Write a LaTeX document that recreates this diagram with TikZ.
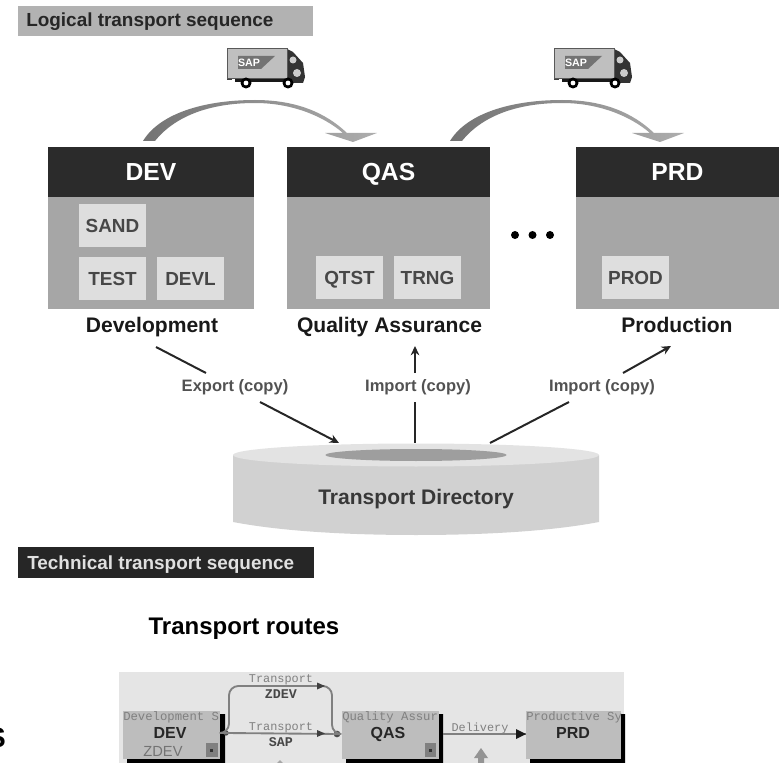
\documentclass[tikz,border=0pt]{standalone}
\usepackage{fontspec}
\setmainfont{Liberation Sans}
\newfontfamily\monof{Liberation Mono}
\usetikzlibrary{arrows.meta,shapes.geometric}
\definecolor{hdrgray}{gray}{0.70}
\definecolor{sysbody}{gray}{0.65}
\definecolor{syshead}{gray}{0.17}
\definecolor{clientbox}{gray}{0.87}
\definecolor{drum}{gray}{0.82}
\definecolor{drumtop}{gray}{0.89}
\definecolor{panel}{gray}{0.90}
\definecolor{routebox}{gray}{0.74}
\tikzset{
  x=0.75pt,y=-0.75pt,
  bandtext/.style={font=\bfseries\fontsize{14.2}{16}\selectfont,anchor=west,inner sep=0,text height=10.5pt,text depth=3pt},
  syshd/.style={fill=syshead,text=white,font=\bfseries\fontsize{18.5}{20}\selectfont,inner sep=0,minimum height=37.5pt,text height=13.3pt,text depth=0pt},
  client/.style={fill=clientbox,font=\bfseries\fontsize{14.2}{16}\selectfont,text=black!72,inner sep=0,minimum width=50.25pt,minimum height=32.25pt,text height=10.2pt,text depth=0pt},
  syslabel/.style={font=\bfseries\fontsize{15.8}{18}\selectfont,text=black!90,inner sep=0,text height=11.5pt,text depth=3.3pt},
  flowlabel/.style={font=\bfseries\fontsize{12.4}{14}\selectfont,text=black!68,inner sep=0,text height=9pt,text depth=2.6pt},
  flow/.style={draw=black!85,line width=1.5pt},
  flowtip/.style={flow,-{Stealth[length=7pt,width=6.5pt]}},
  rbox/.style={fill=routebox,inner sep=0,minimum width=72.5pt,minimum height=35.5pt,anchor=north west},
  rname/.style={font=\bfseries\fontsize{12}{14}\selectfont,text=black!85,inner sep=0,text height=8.6pt,text depth=0pt},
  rsmall/.style={font=\monof\fontsize{9.2}{10}\selectfont,text=black!50,inner sep=0},
  rlabel/.style={font=\monof\fontsize{8.9}{10}\selectfont,text=black!50,inner sep=0},
  rbold/.style={font=\monof\bfseries\fontsize{10}{12}\selectfont,text=black!72,inner sep=0},
  rline/.style={draw=black!50,line width=1.4pt},
  rdot/.style={circle,fill=black!70,inner sep=0,minimum size=5pt},
}
\newcommand{\truck}[1]{%
 \begin{scope}[shift={(#1)}]
  \fill[black!90] (8,31) rectangle (74,35);
  \fill[black!80] (60,2) -- (66,5) -- (76,16) -- (78,30) -- (76,36) -- (60,36) -- cycle;
  \fill[black!20] (66,13) circle[radius=3.5];
  \fill[black!20] (70,26) circle[radius=4];
  \fill[black!75] (0,29) rectangle (5,33);
  \fill[black!25,draw=black!65,line width=0.5pt] (0,1) rectangle (60,31);
  \fill[black!55] (11,9) -- (48,9) -- (34,22) -- (11,22) -- cycle;
  \node[font=\bfseries\fontsize{8}{9}\selectfont,text=white,inner sep=0] at (22,15.5) {SAP};
  \fill[black] (19,36) circle[radius=5.5]; \fill[white] (19,36) circle[radius=2.4];
  \fill[black] (61,36) circle[radius=5.5]; \fill[white] (61,36) circle[radius=2.4];
 \end{scope}}
\newcommand{\bigarc}[1]{%
 \begin{scope}[shift={(#1)}]
  \shade[left color=black!55,middle color=black!8,right color=black!32]
    (143,141) .. controls (160,113) and (205,100) .. (255,100)
    .. controls (295,100) and (325,112) .. (347,133) -- (377,133) -- (353,142) -- (325,133) -- (343,133)
    .. controls (322,115) and (290,103) .. (255,103)
    .. controls (210,103) and (175,116) .. (155,141) -- cycle;
 \end{scope}}
\begin{document}
\begin{tikzpicture}
\useasboundingbox (0,0) rectangle (779,763);
% bands
\fill[hdrgray] (18,6) rectangle (313,36);
\node[bandtext,text=black!85] (logical) at (26,22) {Logical transport sequence};
\fill[black!85] (18,547) rectangle (314,578);
\node[bandtext,text=black!12] (technical) at (27,564) {Technical transport sequence};
% trucks
\truck{227,47}
\truck{554,47}
% arcs
\bigarc{0,0}
\bigarc{307,0}
% systems
\fill[sysbody] (48,197) rectangle (254,309);
\fill[sysbody] (287,197) rectangle (490,309);
\fill[sysbody] (576,197) rectangle (779,309);
\node[syshd,minimum width=154.5pt] (dev) at (151,172) {DEV};
\node[syshd,minimum width=152.25pt] (qas) at (388.5,172) {QAS};
\node[syshd,minimum width=152.25pt] (prd) at (677.5,172) {PRD};
% clients
\node[client] (sand) at (112.5,226) {SAND};
\node[client] (test) at (112.5,278.5) {TEST};
\node[client] (devl) at (190.5,278.5) {DEVL};
\node[client] (qtst) at (349.5,278) {QTST};
\node[client] (trng) at (427.5,278) {TRNG};
\node[client] (prod) at (635.5,278) {PROD};
% dots
\fill[black] (515,235) circle[radius=4] (532.5,235) circle[radius=4] (550,235) circle[radius=4];
% labels
\node[syslabel] (ldev) at (152,327) {Development};
\node[syslabel] (lqas) at (389.5,327) {Quality Assurance};
\node[syslabel] (lprd) at (677,327) {Production};
% drum
\fill[drum] (233,455) -- (233,522) .. controls (280,531) and (345,535) .. (416,535) .. controls (487,535) and (552,531) .. (599,522) -- (599,455) -- cycle;
\fill[drumtop] (416,455) ellipse[x radius=183,y radius=11.5];
\node[ellipse,fill=black!38,inner sep=0,minimum width=136pt,minimum height=9pt] (hole) at (416,455) {};
\node[font=\bfseries\fontsize{15.8}{18}\selectfont,text=black!78,inner sep=0] (td) at (416,499) {Transport Directory};
% flow labels
\node[flowlabel] (exp) at (235,387) {Export (copy)};
\node[flowlabel] (imp1) at (418,387) {Import (copy)};
\node[flowlabel] (imp2) at (602,387) {Import (copy)};
% flows
\coordinate (a1) at (156,347); \coordinate (a2) at (206,373);
\coordinate (b1) at (260,402); \coordinate (b2) at (339,443);
\coordinate (c1) at (415,373); \coordinate (c2) at (415,346);
\coordinate (d1) at (415,402); \coordinate (d2) at (415,443);
\coordinate (e1) at (623,373); \coordinate (e2) at (671,346);
\coordinate (f1) at (569,402); \coordinate (f2) at (490,443);
\draw[flow] (a1) -- (a2);
\draw[flowtip] (b1) -- (b2);
\draw[flowtip] (c1) -- (c2);
\draw[flow] (d1) -- (d2);
\draw[flowtip] (e1) -- (e2);
\draw[flow] (f1) -- (f2);
% letter cut by the left edge, as in the reference
\node[font=\bfseries\fontsize{21}{24}\selectfont,anchor=east,inner sep=0] (cut) at (6,738) {S};
% routes
\node[font=\bfseries\fontsize{18}{20}\selectfont,inner sep=0] (routes) at (244,629) {Transport routes};
\fill[panel] (119,672) rectangle (624,763);
\fill[black] (220,714) rectangle (225,763) (127,758) rectangle (225,763);
\fill[black] (438,714) rectangle (443,763) (346,758) rectangle (443,763);
\fill[black] (621,714) rectangle (625,763) (530,758) rectangle (625,763);
\node[rbox] (rdev) at (123,711) {};
\node[rbox] (rqas) at (342,711) {};
\node[rbox,minimum width=71.25pt] (rprd) at (526,711) {};
\node[rname] (ndev) at (170,733) {DEV};
\node[rname] (nqas) at (388,733) {QAS};
\node[rname] (nprd) at (573,733) {PRD};
\node[rsmall,anchor=west] (tdev) at (123,717) {Development S};
\node[rsmall,anchor=west] (tqas) at (342,717) {Quality Assur};
\node[rsmall,anchor=west] (tprd) at (526,717) {Productive Sy};
\node[font=\fontsize{11}{13}\selectfont,text=black!55,inner sep=0] (zdev) at (163,751) {ZDEV};
\fill[black!50] (206,743) rectangle (218,757);
\fill[black!50] (425,743) rectangle (436,757);
\fill[black!80] (210,749) rectangle (213,752);
\fill[black!80] (429,749) rectangle (432,752);
% route connectors
\node[rdot,minimum size=4pt] (srcdot) at (226,733) {};
\node[rdot] (qasdot) at (337,734) {};
\coordinate (up) at (229,686);
\coordinate (upr) at (332,686);
\coordinate (delivstart) at (443,734);
\coordinate (delivend) at (526,734);
\draw[rline,rounded corners=7pt] (srcdot) -- (229,733) -- (up) -- (upr) -- (332,734) -- (qasdot);
\draw[rline] (srcdot) -- (qasdot);
\fill[black!75] (325,686) -- (317,682.5) -- (317,689.5) -- cycle;
\fill[black!75] (325,733.5) -- (317,730) -- (317,737) -- cycle;
\draw[rline] (delivstart) -- (delivend);
\fill[black!90] (526,734) -- (516,729) -- (516,739) -- cycle;
\node[rlabel] (l1) at (281,680) {Transport};
\node[rbold] (l2) at (281,694) {ZDEV};
\node[rlabel] (l3) at (281,728) {Transport};
\node[rbold] (l4) at (281,742) {SAP};
\node[rlabel] (l5) at (480,728) {Delivery};
\fill[black!42] (481,748) -- (488,758) -- (484,758) -- (484,763) -- (478,763) -- (478,758) -- (474,758) -- cycle;
\fill[black!35] (280,760) -- (283,763) -- (277,763) -- cycle;
\end{tikzpicture}
\end{document}
